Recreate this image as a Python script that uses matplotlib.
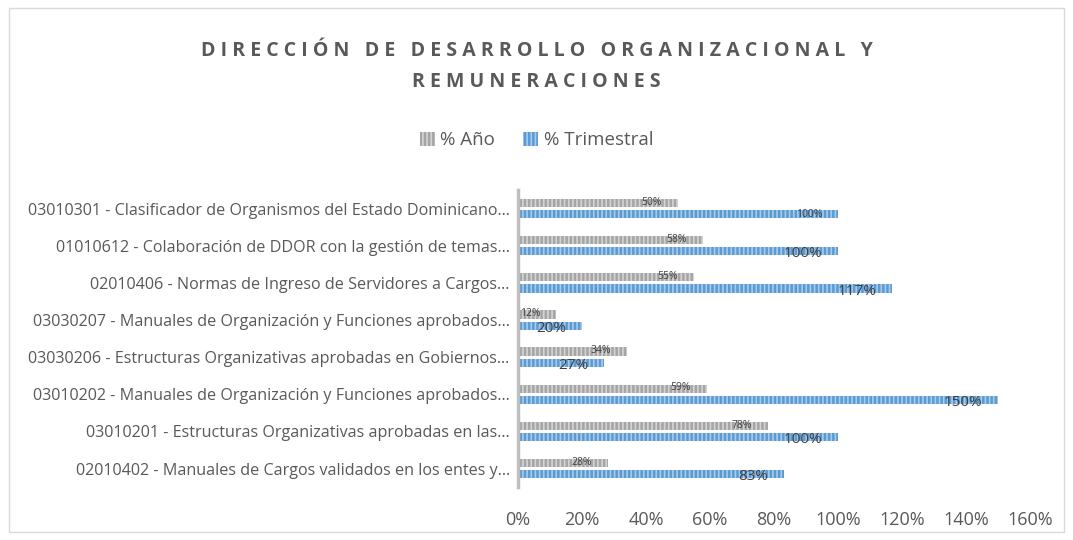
import matplotlib.pyplot as plt
import numpy as np
from matplotlib.patches import Patch, Rectangle

plt.rcParams['font.family'] = ['Open Sans', 'DejaVu Sans']
plt.rcParams['hatch.linewidth'] = 1.2

# categories top to bottom
categorias = [
    "03010301 - Clasificador de Organismos del Estado Dominicano...",
    "01010612 - Colaboración de DDOR con la gestión de temas...",
    "02010406 - Normas de Ingreso de Servidores a Cargos...",
    "03030207 - Manuales de Organización y Funciones aprobados...",
    "03030206 - Estructuras Organizativas aprobadas en Gobiernos...",
    "03010202 - Manuales de Organización y Funciones aprobados...",
    "03010201 - Estructuras Organizativas aprobadas en las...",
    "02010402 - Manuales de Cargos validados en los entes y...",
]
pct_anio = [0.50, 0.578, 0.55, 0.12, 0.34, 0.59, 0.78, 0.28]
pct_trim = [1.00, 1.00, 1.17, 0.20, 0.27, 1.50, 1.00, 0.83]
etq_anio = ["50%", "58%", "55%", "12%", "34%", "59%", "78%", "28%"]
etq_trim = ["100%", "100%", "117%", "20%", "27%", "150%", "100%", "83%"]
# label size flags (True = large label)
grande_trim = [False, True, True, True, True, True, True, True]

gris = '#A5A5A5'
azul = '#5B9BD5'
texto = '#595959'

fig = plt.figure(figsize=(10.73, 5.4), dpi=100)
fig.patches.append(Rectangle((0.008, 0.015), 0.984, 0.97, transform=fig.transFigure,
                             fill=False, edgecolor='#D9D9D9', linewidth=1))

ax = fig.add_axes([0.4828, 0.098, 0.4772, 0.55])
y = np.arange(len(categorias))
h = 0.22
ax.barh(y - 0.15, pct_anio, height=h, color=gris, edgecolor='#D4D4D4',
        hatch='||||', linewidth=0)
ax.barh(y + 0.15, pct_trim, height=h, color=azul, edgecolor='#A9CBEB',
        hatch='||||', linewidth=0)

for i in range(len(categorias)):
    ax.text(pct_anio[i] - 0.05, y[i] - 0.17, etq_anio[i], ha='right', va='center',
            fontsize=7.5, color='#404040')
    fs = 11 if grande_trim[i] else 7.5
    dy = 0.22 if grande_trim[i] else 0.17
    ax.text(pct_trim[i] - 0.05, y[i] + dy, etq_trim[i], ha='right', va='center',
            fontsize=fs, color='#404040')

ax.set_ylim(len(categorias) - 0.5, -0.5)
ax.set_xlim(0, 1.6)
ax.set_yticks(y)
ax.set_yticklabels(categorias, fontsize=11.6, color=texto)
ax.set_xticks(np.arange(0, 1.61, 0.2))
ax.set_xticklabels([f"{int(round(v*100))}%" for v in np.arange(0, 1.61, 0.2)],
                   fontsize=13, color=texto)
ax.tick_params(axis='both', length=0)
ax.tick_params(axis='x', pad=17)
ax.tick_params(axis='y', pad=6)
for s in ['top', 'right', 'bottom']:
    ax.spines[s].set_visible(False)
ax.spines['left'].set_color('#BFBFBF')
ax.spines['left'].set_linewidth(2.5)

fig.text(0.5, 0.905, "D I R E C C I Ó N   D E   D E S A R R O L L O   O R G A N I Z A C I O N A L   Y",
         ha='center', va='center', fontsize=14, fontweight='bold', color=texto)
fig.text(0.5, 0.848, "R E M U N E R A C I O N E S",
         ha='center', va='center', fontsize=14, fontweight='bold', color=texto)

handles = [Patch(facecolor=gris, edgecolor='#D4D4D4', hatch='||||', linewidth=0),
           Patch(facecolor=azul, edgecolor='#A9CBEB', hatch='||||', linewidth=0)]
leg = fig.legend(handles, ["% Año", "% Trimestral"], loc='center', bbox_to_anchor=(0.5, 0.74),
                 ncol=2, frameon=False, fontsize=13.5, handlelength=0.8, handleheight=0.8,
                 handletextpad=0.3, columnspacing=1.5)
for t in leg.get_texts():
    t.set_color(texto)

fig.savefig('out.png', dpi=100)
